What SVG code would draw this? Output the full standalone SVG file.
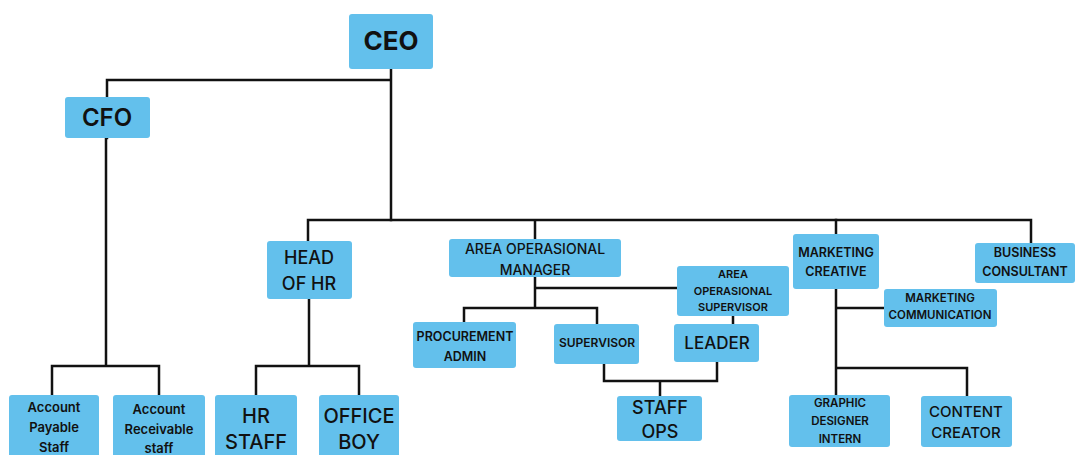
<svg xmlns="http://www.w3.org/2000/svg" width="1076" height="455" viewBox="0 0 1076 455">
<style>
.b{fill:#63C0EC;}
.t{font-family:Inter,"Noto Sans",sans-serif;font-weight:500;fill:#111;text-anchor:middle;dominant-baseline:central;}
.s{font-weight:600;}
.h{font-weight:700;}
.c{fill:none;stroke:#111;stroke-width:2.5;stroke-linecap:square;}
</style>
<rect width="1076" height="455" fill="#fff"/>
<g id="connectors">
<path class="c" d="M391 69V220M107 80H391M107 138V80"/>
<path class="c" d="M106 138V366M52 395V366H159V395"/>
<path class="c" d="M308 241V220H1031V243M535 220V239"/>
<path class="c" d="M309 299V366M256 395V366H359V395"/>
<path class="c" d="M535 277V308M535 288H677M464 322V308H597V324"/>
<path class="c" d="M733 316V324M604 364V381H717V362M660 381V396"/>
<path class="c" d="M836 220V234M836 289V395M836 308H884M836 368H967V396"/>
</g>
<g id="ceo"><rect class="b" x="349" y="14" width="84" height="55" rx="3"/><text class="t h" x="391" y="40" font-size="26">CEO</text></g>
<g id="cfo"><rect class="b" x="65" y="97" width="85" height="41" rx="3"/><text class="t s" x="107" y="117" font-size="24">CFO</text></g>
<g id="ap"><rect class="b" x="9" y="395" width="90" height="70" rx="3"/><text class="t s" font-size="13"><tspan x="54" y="407">Account</tspan><tspan x="54" y="427">Payable</tspan><tspan x="54" y="447">Staff</tspan></text></g>
<g id="ar"><rect class="b" x="113" y="395" width="92" height="70" rx="3"/><text class="t s" font-size="13"><tspan x="159" y="409">Account</tspan><tspan x="159" y="429">Receivable</tspan><tspan x="159" y="448">staff</tspan></text></g>
<g id="hr"><rect class="b" x="267" y="241" width="85" height="58" rx="3"/><text class="t" font-size="18"><tspan x="309" y="257">HEAD</tspan><tspan x="309" y="283">OF HR</tspan></text></g>
<g id="hrstaff"><rect class="b" x="215" y="395" width="82" height="70" rx="3"/><text class="t" font-size="20"><tspan x="256" y="416">HR</tspan><tspan x="256" y="442">STAFF</tspan></text></g>
<g id="officeboy"><rect class="b" x="319" y="395" width="80" height="70" rx="3"/><text class="t" font-size="20"><tspan x="359" y="416">OFFICE</tspan><tspan x="359" y="442">BOY</tspan></text></g>
<g id="aom"><rect class="b" x="449" y="239" width="172" height="38" rx="3"/><text class="t" font-size="14"><tspan x="535" y="248">AREA OPERASIONAL</tspan><tspan x="535" y="269">MANAGER</tspan></text></g>
<g id="aos"><rect class="b" x="677" y="266" width="112" height="50" rx="3"/><text class="t s" font-size="11"><tspan x="733" y="274">AREA</tspan><tspan x="733" y="291">OPERASIONAL</tspan><tspan x="733" y="307">SUPERVISOR</tspan></text></g>
<g id="procurement"><rect class="b" x="413" y="322" width="103" height="46" rx="3"/><text class="t s" font-size="12.5"><tspan x="465" y="336">PROCUREMENT</tspan><tspan x="465" y="356">ADMIN</tspan></text></g>
<g id="supervisor"><rect class="b" x="554" y="324" width="85" height="40" rx="3"/><text class="t s" x="597" y="342" font-size="12">SUPERVISOR</text></g>
<g id="leader"><rect class="b" x="674" y="324" width="85" height="38" rx="3"/><text class="t" x="717" y="343" font-size="17">LEADER</text></g>
<g id="staffops"><rect class="b" x="617" y="396" width="85" height="45" rx="3"/><text class="t" font-size="18"><tspan x="660" y="407">STAFF</tspan><tspan x="660" y="431">OPS</tspan></text></g>
<g id="mktcreative"><rect class="b" x="793" y="234" width="86" height="55" rx="3"/><text class="t s" font-size="12.5"><tspan x="836" y="252">MARKETING</tspan><tspan x="836" y="271">CREATIVE</tspan></text></g>
<g id="business"><rect class="b" x="975" y="243" width="100" height="40" rx="3"/><text class="t s" font-size="12.5"><tspan x="1025" y="252">BUSINESS</tspan><tspan x="1025" y="271">CONSULTANT</tspan></text></g>
<g id="mktcomm"><rect class="b" x="884" y="289" width="113" height="38" rx="3"/><text class="t s" font-size="11.5"><tspan x="940" y="298">MARKETING</tspan><tspan x="940" y="315">COMMUNICATION</tspan></text></g>
<g id="graphic"><rect class="b" x="789" y="395" width="101" height="52" rx="3"/><text class="t s" font-size="11.5"><tspan x="840" y="403">GRAPHIC</tspan><tspan x="840" y="421">DESIGNER</tspan><tspan x="840" y="439">INTERN</tspan></text></g>
<g id="content"><rect class="b" x="921" y="396" width="91" height="51" rx="3"/><text class="t" font-size="15"><tspan x="966" y="411">CONTENT</tspan><tspan x="966" y="432">CREATOR</tspan></text></g>
</svg>
